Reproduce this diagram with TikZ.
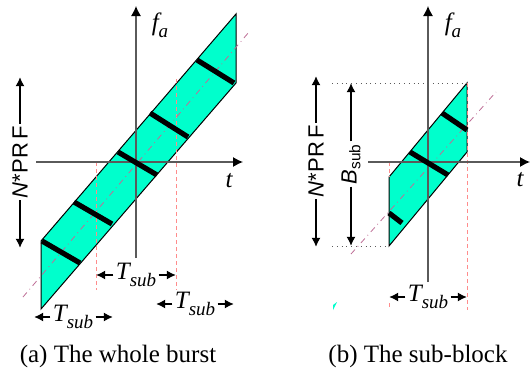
\documentclass[tikz,border=0pt]{standalone}
\usepackage{fontspec}
\setmainfont{Liberation Serif}
\setsansfont{Liberation Sans}
\usetikzlibrary{arrows.meta}
\definecolor{burst}{RGB}{0,255,204}
\definecolor{guide}{RGB}{255,140,140}
\definecolor{centre}{RGB}{190,110,150}
\definecolor{axisgrey}{RGB}{90,90,90}
\newcommand{\lowsub}[1]{\raisebox{-0.28em}{\fontsize{9.5}{11}\selectfont #1}}
\tikzset{
  axis/.style={draw=axisgrey, line width=0.6pt, -{Latex[length=5pt,width=5pt,color=black]}},
  span/.style={line width=1.1pt, -{Latex[length=4.6pt,width=4.6pt]}},
  bar/.style={line width=2.6pt},
  guideline/.style={draw=guide, dash pattern=on 2pt off 1.5pt, line width=0.5pt},
  midline/.style={draw=centre, dash dot, line width=0.4pt},
  edge/.style={draw=black, line width=0.5pt},
  lbl/.style={font=\fontsize{12.5}{14}\selectfont, inner sep=1pt},
  sflbl/.style={font=\sffamily\fontsize{11}{13}\selectfont, rotate=90, inner sep=1pt, fill=white},
  caption/.style={font=\fontsize{12.5}{15}\selectfont}
}
\begin{document}
\begin{tikzpicture}[x=0.5pt,y=-0.5pt]
  \useasboundingbox (0,0) rectangle (530,391);
  % (a) the whole burst
  \coordinate (a-p1) at (41,309);
  \coordinate (a-p2) at (236,83);
  \coordinate (a-p3) at (236,14);
  \coordinate (a-p4) at (41,241);
  \fill[burst] (a-p1) -- (a-p2) -- (a-p3) -- (a-p4) -- cycle;
  \draw[edge] (a-p1) -- (a-p2) -- (a-p3) -- (a-p4) -- cycle;
  \coordinate (a-gl1) at (96,162);
  \coordinate (a-gl2) at (96,290);
  \coordinate (a-gr1) at (176,79);
  \coordinate (a-gr2) at (176,290);
  \draw[guideline] (a-gl1) -- (a-gl2);
  \draw[guideline] (a-gr1) -- (a-gr2);
  \coordinate (a-m1) at (23,297);
  \coordinate (a-m2) at (249,32);
  \draw[midline] (a-m1) -- (a-m2);
  \coordinate (a-xl) at (36,162);
  \coordinate (a-xr) at (243,162);
  \coordinate (a-yb) at (136,258);
  \coordinate (a-yt) at (136,6);
  \draw[axis] (a-xl) -- (a-xr);
  \draw[axis] (a-yb) -- (a-yt);
  \node[lbl] (a-fa) at (160,25) {\itshape f\lowsub{a}};
  \node[lbl] (a-t) at (229,181) {\itshape t};
  \draw[bar] (197,60) -- (234,83);
  \draw[bar] (150,113) -- (188,137);
  \draw[bar] (118,152) -- (157,175);
  \draw[bar] (74,202) -- (112,224);
  \draw[bar] (42,241) -- (80,263);
  \node[sflbl] (a-nprf) at (20,162) {\itshape N\upshape*PR\,F};
  \coordinate (a-nt) at (20,77);
  \coordinate (a-nb) at (20,248);
  \draw[span] (a-nprf) -- (a-nt);
  \draw[span] (a-nprf) -- (a-nb);
  \node[lbl] (a-ts1) at (136,275) {\itshape T\lowsub{sub}};
  \coordinate (a-ts1l) at (96,275);
  \coordinate (a-ts1r) at (176,275);
  \draw[span] (a-ts1) -- (a-ts1l);
  \draw[span] (a-ts1) -- (a-ts1r);
  \node[lbl] (a-ts2) at (73,317) {\itshape T\lowsub{sub}};
  \coordinate (a-ts2l) at (34,317);
  \coordinate (a-ts2r) at (113,317);
  \draw[span] (a-ts2) -- (a-ts2l);
  \draw[span] (a-ts2) -- (a-ts2r);
  \node[lbl] (a-ts3) at (195,304) {\itshape T\lowsub{sub}};
  \coordinate (a-ts3l) at (156,304);
  \coordinate (a-ts3r) at (234,304);
  \draw[span] (a-ts3) -- (a-ts3l);
  \draw[span] (a-ts3) -- (a-ts3r);
  \node[caption] (a-cap) at (118,356) {(a) The whole burst};
  % (b) the sub-block
  \coordinate (b-p1) at (389,246);
  \coordinate (b-p2) at (467,152);
  \coordinate (b-p3) at (467,83);
  \coordinate (b-p4) at (389,177);
  \fill[burst] (b-p1) -- (b-p2) -- (b-p3) -- (b-p4) -- cycle;
  \draw[edge] (b-p1) -- (b-p2) -- (b-p3) -- (b-p4) -- cycle;
  \coordinate (b-d1) at (332,83);
  \coordinate (b-d2) at (332,246);
  \draw[axisgrey, dotted, line width=0.4pt] (b-d1) -- (b-p3);
  \draw[axisgrey, dotted, line width=0.4pt] (b-d2) -- (b-p1);
  \coordinate (b-gl1) at (389,162);
  \coordinate (b-gl2) at (389,303);
  \coordinate (b-gl3) at (389,310);
  \coordinate (b-gr2) at (467,310);
  \draw[guideline] (b-gl1) -- (b-p4);
  \draw[guideline] (b-gl2) -- (b-gl3);
  \draw[guideline] (b-p3) -- (b-gr2);
  \coordinate (b-m1) at (351,254);
  \coordinate (b-m2) at (496,92);
  \draw[midline] (b-m1) -- (b-m2);
  \coordinate (b-xl) at (368,162);
  \coordinate (b-xr) at (530,162);
  \coordinate (b-yb) at (428,282);
  \coordinate (b-yt) at (428,6);
  \draw[axis] (b-xl) -- (b-xr);
  \draw[axis] (b-yb) -- (b-yt);
  \node[lbl] (b-fa) at (453,25) {\itshape f\lowsub{a}};
  \node[lbl] (b-t) at (520,180) {\itshape t};
  \draw[bar] (442,113) -- (467,130);
  \draw[bar] (410,152) -- (448,175);
  \draw[bar] (389,213) -- (402,223);
  \fill[burst] (333,310) -- (333,305) -- (337,302) -- cycle;
  \node[sflbl] (b-nprf) at (316,161) {\itshape N\upshape*PR\,F};
  \coordinate (b-nt) at (316,76);
  \coordinate (b-nb) at (316,247);
  \draw[span] (b-nprf) -- (b-nt);
  \draw[span] (b-nprf) -- (b-nb);
  \node[sflbl] (b-bsub) at (351,164) {\itshape B\upshape\textsubscript{sub}};
  \coordinate (b-bt) at (351,83);
  \coordinate (b-bb) at (351,246);
  \draw[span] (b-bsub) -- (b-bt);
  \draw[span] (b-bsub) -- (b-bb);
  \node[lbl] (b-ts) at (428,297) {\itshape T\lowsub{sub}};
  \coordinate (b-tsl) at (389,297);
  \coordinate (b-tsr) at (467,297);
  \draw[span] (b-ts) -- (b-tsl);
  \draw[span] (b-ts) -- (b-tsr);
  \node[caption] (b-cap) at (418,356) {(b) The sub-block};
\end{tikzpicture}
\end{document}
